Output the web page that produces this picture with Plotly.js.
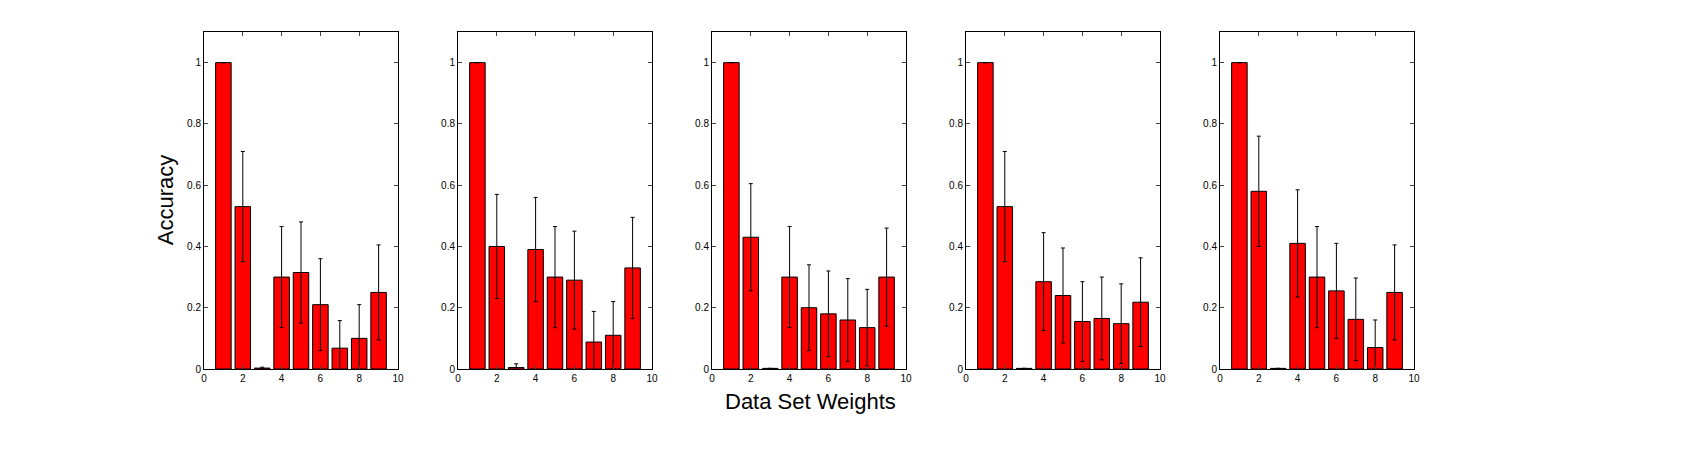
<!DOCTYPE html>
<html><head><meta charset="utf-8">
<script src="https://cdn.plot.ly/plotly-3.0.1.min.js"></script>
<style>body{margin:0}#plot{width:1700px;height:450px}</style>
</head><body><div id="plot"></div>
<script>
const weights = [1, 2, 3, 4, 5, 6, 7, 8, 9];
const acc1 = [1, 0.53, 0.003, 0.30, 0.315, 0.21, 0.068, 0.10, 0.25];
const err1 = [0, 0.18, 0.003, 0.165, 0.165, 0.15, 0.09, 0.11, 0.155];
const acc2 = [1, 0.40, 0.005, 0.39, 0.30, 0.29, 0.088, 0.11, 0.33];
const err2 = [0, 0.17, 0.012, 0.17, 0.165, 0.16, 0.10, 0.11, 0.165];
const acc3 = [1, 0.43, 0.002, 0.30, 0.20, 0.18, 0.16, 0.135, 0.30];
const err3 = [0, 0.175, 0, 0.165, 0.14, 0.14, 0.135, 0.125, 0.16];
const acc4 = [1, 0.53, 0.002, 0.285, 0.24, 0.155, 0.165, 0.148, 0.218];
const err4 = [0, 0.18, 0, 0.16, 0.155, 0.13, 0.135, 0.13, 0.145];
const acc5 = [1, 0.58, 0.002, 0.41, 0.30, 0.255, 0.162, 0.07, 0.25];
const err5 = [0, 0.18, 0, 0.175, 0.165, 0.155, 0.135, 0.09, 0.155];
const panels = [[acc1, err1], [acc2, err2], [acc3, err3], [acc4, err4], [acc5, err5]];

const traces = [];
const layout = {
  width: 1700, height: 450, showlegend: false,
  margin: { l: 0, r: 0, t: 0, b: 0 },
  paper_bgcolor: "#fff", plot_bgcolor: "#fff",
  font: { family: "Arial, Liberation Sans, sans-serif", size: 10, color: "#000" },
  bargap: 0.2,
  annotations: [
    { text: "Accuracy", xref: "paper", yref: "paper", x: 0.097, y: 0.555,
      xanchor: "center", yanchor: "middle",
      textangle: -90, showarrow: false, font: { size: 22 } },
    { text: "Data Set Weights", xref: "paper", yref: "paper", x: 0.477, y: 0.107,
      xanchor: "center", yanchor: "middle",
      showarrow: false, font: { size: 22 } },
  ],
};
panels.forEach(([acc, err], k) => {
  const n = k === 0 ? "" : String(k + 1);
  const x0 = (204 + 254 * k) / 1700, x1 = (398 + 254 * k) / 1700;
  traces.push({
    type: "bar", x: weights, y: acc, width: 0.8,
    marker: { color: "#ff0000", line: { color: "#000", width: 1 } },
    error_y: { type: "data", array: err, visible: true, color: "#000", thickness: 1, width: 2 },
    xaxis: "x" + n, yaxis: "y" + n,
  });
  layout["xaxis" + n] = {
    domain: [x0, x1], anchor: "y" + n, range: [0, 10], dtick: 2,
    ticks: "inside", ticklen: 4, mirror: "ticks", showline: true, linecolor: "#000",
    showgrid: false, zeroline: false,
  };
  layout["yaxis" + n] = {
    domain: [1 - 369 / 450, 1 - 32 / 450], anchor: "x" + n, range: [0, 1.1], dtick: 0.2,
    ticks: "inside", ticklen: 4, mirror: "ticks", showline: true, linecolor: "#000",
    showgrid: false, zeroline: false,
  };
});
Plotly.newPlot("plot", traces, layout, { displayModeBar: false });
</script></body></html>
